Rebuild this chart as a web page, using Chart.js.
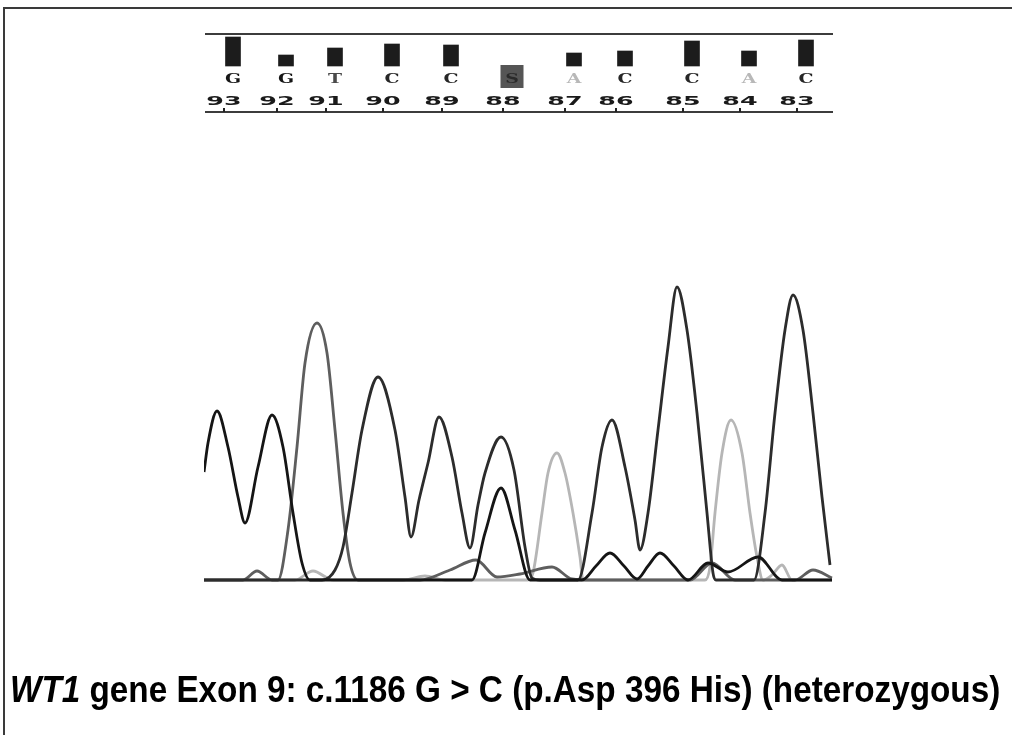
<!DOCTYPE html>
<html>
<head>
<meta charset="utf-8">
<script src="https://cdn.jsdelivr.net/npm/chart.js@4.4.0/dist/chart.umd.min.js"></script>
<style>
  html, body { margin: 0; padding: 0; background: #fff; overflow: hidden; }
  #page { position: relative; width: 1012px; height: 735px; overflow: hidden; }
  .rule { position: absolute; background: #3a3a3a; }
  #wrap { position: absolute; left: 0; top: 0; width: 1012px; height: 735px; }
  #caption { position: absolute; left: 10px; top: 672px; white-space: nowrap; line-height: 36px;
             font-family: "Liberation Sans", Arial, sans-serif; font-size: 36px; font-weight: bold;
             color: #000; transform-origin: 0 0; }
</style>
</head>
<body>
<div id="page">
  <div class="rule" style="left:3px; top:7px; width:1009px; height:2px;"></div>
  <div class="rule" style="left:3px; top:7px; width:2px; height:728px;"></div>
  <div id="wrap"><canvas id="trace"></canvas></div>
  <div id="caption"><i>WT1</i> gene Exon 9: c.1186 G &gt; C (p.Asp 396 His) (heterozygous)</div>
</div>
<script>
// base calls (read right to left on the reverse strand)
const baseNumbers = [93, 92, 91, 90, 89, 88, 87, 86, 85, 84, 83];
const baseCalls   = ['G', 'G', 'T', 'C', 'C', 'S', 'A', 'C', 'C', 'A', 'C'];
const baseScan    = [20, 73, 122, 179, 238, 299, 361, 412, 479, 536, 593];
const baseQuality = [29, 11, 18, 22, 21, 0, 13, 15, 25, 15, 26];

// traces as [scan, signal]
const traceG = [[0,108],[4,137],[13,169],[24,133],[34,83],[41,57],[54,113],[68,165],[79,133],[89,67],[98,17],[106,0],
  [156,0],[216,0],[268,0],[281,47],[297,92],[311,50],[326,0],[378,0],[392,14],[406,27],[420,14],[433,1],[444,14],
  [456,27],[470,14],[484,0],[504,17],[524,8],[554,23],[578,0],[628,0]];
const traceC = [[0,0],[46,0],[118,0],[131,10],[139,33],[148,87],[158,150],[174,203],[191,150],[201,83],[207,43],
  [215,80],[224,117],[235,163],[248,123],[258,67],[266,32],[274,75],[281,107],[297,143],[310,110],[321,33],[328,2],
  [336,0],[374,0],[388,67],[398,133],[408,160],[421,113],[431,60],[436,30],[444,67],[454,150],[464,233],[473,293],
  [483,250],[493,167],[503,67],[509,7],[512,0],[550,0],[561,67],[571,167],[581,250],[589,285],[599,250],[609,167],
  [618,83],[626,15]];
const traceT = [[0,0],[39,0],[53,9],[68,0],[74,0],[84,50],[93,133],[101,217],[113,257],[123,227],[131,150],[139,67],
  [146,17],[154,0],[216,0],[246,10],[272,20],[293,3],[316,6],[348,13],[368,1],[388,0],[486,0],[508,17],[531,0],
  [591,0],[609,10],[628,2]];
const traceA = [[0,0],[91,0],[109,9],[129,0],[199,0],[221,4],[241,0],[324,0],[329,7],[338,67],[344,107],[353,127],
  [361,107],[369,67],[376,23],[379,0],[501,0],[506,13],[511,67],[518,127],[527,160],[538,127],[546,67],[553,23],
  [559,0],[568,5],[578,15],[588,0],[628,0]];

const letterColor = { G: '#161616', C: '#262626', T: '#4a4a4a', A: '#b8b8b8', S: '#2a2a2a' };

function toPoints(arr) {
  return arr.map(p => ({ x: p[0], y: p[1] }));
}

function traceSet(label, arr, color) {
  return {
    type: 'line', label: label, data: toPoints(arr), yAxisID: 'y',
    borderColor: color, borderWidth: 2.8, pointRadius: 0,
    cubicInterpolationMode: 'monotone', fill: false
  };
}

// heavy, horizontally stretched glyphs like the sequencer's bitmap font
function wideText(ctx, txt, cx, cy, sx) {
  ctx.save();
  ctx.translate(cx, cy);
  ctx.scale(sx, 1);
  ctx.fillText(txt, 0, 0);
  ctx.restore();
}

// draws the base-call strip: frame lines, letters, numbers and ticks
const stripPlugin = {
  id: 'strip',
  afterDatasetsDraw(chart) {
    const ctx = chart.ctx;
    const x = chart.scales.x, yq = chart.scales.yq;
    const left = x.getPixelForValue(1), right = x.getPixelForValue(629);
    const topY = yq.getPixelForValue(32), botY = yq.getPixelForValue(-46);
    ctx.save();
    ctx.strokeStyle = '#3c3c3c';
    ctx.lineWidth = 2;
    ctx.beginPath();
    ctx.moveTo(left, topY); ctx.lineTo(right, topY);
    ctx.moveTo(left, botY); ctx.lineTo(right, botY);
    ctx.stroke();

    ctx.textAlign = 'center';
    ctx.textBaseline = 'alphabetic';
    baseScan.forEach((s, i) => {
      const tx = x.getPixelForValue(s);
      const lx = x.getPixelForValue(s + 9);
      // tick
      ctx.fillStyle = '#222';
      ctx.fillRect(Math.round(tx) - 1, botY - 4, 2, 4);
      // base letter
      const b = baseCalls[i];
      if (b === 'S') {
        ctx.fillStyle = '#555';
        ctx.fillRect(lx - 11.5, yq.getPixelForValue(1), 23, 23);
      }
      ctx.font = 'bold 13px "DejaVu Serif", serif';
      ctx.fillStyle = letterColor[b];
      wideText(ctx, b, lx, yq.getPixelForValue(-17), 1.45);
      // position number
      ctx.font = 'bold 13px "DejaVu Sans", sans-serif';
      ctx.fillStyle = '#1a1a1a';
      wideText(ctx, String(baseNumbers[i]), tx, yq.getPixelForValue(-39), 1.95);
    });
    ctx.restore();
  }
};

new Chart(document.getElementById('trace'), {
  type: 'line',
  data: {
    datasets: [
      traceSet('G', traceG, '#151515'),
      traceSet('C', traceC, '#2c2c2c'),
      traceSet('T', traceT, '#5e5e5e'),
      traceSet('A', traceA, '#b6b6b6'),
      {
        type: 'bar', label: 'quality', yAxisID: 'yq',
        data: baseScan.map((s, i) => ({ x: s + 9, y: baseQuality[i] })),
        backgroundColor: '#1c1c1c', borderWidth: 0, barThickness: 15
      }
    ]
  },
  options: {
    responsive: true,
    maintainAspectRatio: false,
    animation: false,
    devicePixelRatio: 1,
    layout: { padding: { left: 204, right: 179, top: 34, bottom: 151 } },
    plugins: { legend: { display: false }, tooltip: { enabled: false }, title: { display: false } },
    scales: {
      x: { type: 'linear', min: 0, max: 629, display: false, offset: false },
      y: { min: -4, max: 546, display: false },
      yq: { min: -518, max: 32, display: false }
    }
  },
  plugins: [stripPlugin]
});

const cap = document.getElementById('caption');
cap.style.transform = 'scaleX(' + (990 / cap.offsetWidth) + ')';
</script>
</body>
</html>
